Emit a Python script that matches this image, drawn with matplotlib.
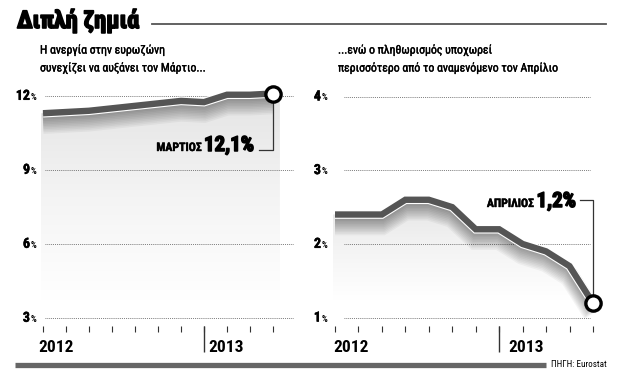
import numpy as np
import matplotlib
matplotlib.use('Agg')
import matplotlib.pyplot as plt
from matplotlib import font_manager, patheffects
from matplotlib.colors import LinearSegmentedColormap
from matplotlib.patches import Polygon

# Eurozone unemployment (%), May 2012 - March 2013
unemp_months = ['2012-05', '2012-06', '2012-07', '2012-08', '2012-09', '2012-10',
                '2012-11', '2012-12', '2013-01', '2013-02', '2013-03']
unemp_values = [11.3, 11.35, 11.4, 11.5, 11.6, 11.7, 11.8, 11.75, 12.05, 12.05, 12.1]
unemp_ticks = [12, 9, 6, 3]

# Eurozone inflation (%), May 2012 - April 2013
infl_months = ['2012-05', '2012-06', '2012-07', '2012-08', '2012-09', '2012-10',
               '2012-11', '2012-12', '2013-01', '2013-02', '2013-03', '2013-04']
infl_values = [2.4, 2.4, 2.4, 2.6, 2.6, 2.5, 2.2, 2.2, 2.0, 1.9, 1.7, 1.2]
infl_ticks = [4, 3, 2, 1]

year_labels = ['2012', '2013']

W, H = 619, 377
LINE_COLOR = '#555555'

names = {f.name for f in font_manager.fontManager.ttflist}
NARROW = next((n for n in ['Liberation Sans Narrow', 'DejaVu Sans Condensed',
                           'Roboto Condensed', 'Open Sans Condensed'] if n in names),
              'DejaVu Sans')
plt.rcParams['font.family'] = [NARROW, 'DejaVu Sans']


def heavy(width):
    return [patheffects.withStroke(linewidth=width, foreground='black')]


fig = plt.figure(figsize=(W / 100, H / 100), dpi=100)
renderer = fig.canvas.get_renderer()


def px_axes(left, top, right, bottom):
    ax = fig.add_axes([left / W, 1 - bottom / H, (right - left) / W, (bottom - top) / H])
    ax.set_axis_off()
    return ax


def to_data(ax, px, py):
    return ax.transData.inverted().transform((px, H - py))


def draw_panel(ax, months, values, ticks, grid_px, num_right_px, years_px):
    x = np.arange(len(months))
    y = np.array(values)

    # grey gradient below the line
    y_bottom = ax.get_ylim()[0]
    fade_to = to_data(ax, 0, 300)[1]
    cmap = LinearSegmentedColormap.from_list('fade', ['#ffffff', '#f4f4f4', '#e4e4e4'])
    grad = np.linspace(0, 1, 256).reshape(-1, 1)
    top = y.max()
    im = ax.imshow(grad, extent=[x[0] - 0.1, x[-1] + 0.3, fade_to, top], origin='lower',
                   cmap=cmap, aspect='auto', zorder=1)
    verts = np.column_stack([np.r_[x[0] - 0.1, x, x[-1] + 0.3, x[-1] + 0.3, x[0] - 0.1],
                             np.r_[y[0], y, y[-1], y_bottom, y_bottom]])
    clip = Polygon(verts, closed=True, facecolor='none', edgecolor='none')
    ax.add_patch(clip)
    im.set_clip_path(clip)

    # dotted grid lines and y labels
    xa = to_data(ax, grid_px[0], 0)[0]
    xb = to_data(ax, grid_px[1], 0)[0]
    ax.hlines(ticks, xa, xb, colors='#555555', linestyles=(0, (1, 1.3)), lw=0.6, zorder=2)
    xn = to_data(ax, num_right_px, 0)[0]
    for t in ticks:
        ty = to_data(ax, 0, H - ax.transData.transform((0, t))[1] + 3.8)[1]
        ax.text(xn, ty, str(t), ha='right', va='baseline', fontsize=10, fontweight='bold',
                path_effects=heavy(0.4))
        ax.text(xn + 0.02, ty, '%', ha='left', va='baseline', fontsize=6.5, fontweight='bold')

    # the line, with white edge and soft shadow
    effects = [patheffects.SimpleLineShadow(offset=(0, -0.7 * k), shadow_color='black',
                                            alpha=0.04, rho=1, linewidth=4.6 + 0.9 * k)
               for k in range(1, 12)]
    effects += [patheffects.Stroke(linewidth=6.2, foreground='white'), patheffects.Normal()]
    ax.plot(x, y, color=LINE_COLOR, lw=4.6, solid_joinstyle='miter',
            solid_capstyle='butt', path_effects=effects, zorder=4)
    ax.plot(x[-1], y[-1], 'o', ms=11, mfc='white', mec='black', mew=2.4, zorder=6)

    # month ticks and year separator
    ya = to_data(ax, 0, 326)[1]
    yb = to_data(ax, 0, 332)[1]
    ax.vlines(x, yb, ya, colors='#333333', lw=0.8)
    dec = months.index('2012-12')
    ax.vlines(dec, to_data(ax, 0, 352)[1], ya, colors='#333333', lw=1.0)
    for label, px in zip(year_labels, years_px):
        ax.text(to_data(ax, px, 0)[0], to_data(ax, 0, 352)[1], label, ha='left',
                va='baseline', fontsize=12.5, fontweight='bold')
    return x, y


def callout(ax, right_px, base_py, value, month_label):
    num = ax.text(to_data(ax, right_px, 0)[0], to_data(ax, 0, base_py)[1],
                  f'{value:.1f}%'.replace('.', ','), ha='right', va='baseline',
                  fontsize=15, fontweight='bold', zorder=7, path_effects=heavy(1.1))
    left = num.get_window_extent(renderer).x0
    ax.text(ax.transData.inverted().transform((left - 3, 0))[0], to_data(ax, 0, base_py)[1],
            month_label, ha='right', va='baseline', fontsize=8.5, fontweight='bold', zorder=7,
            path_effects=heavy(0.3))


ax1 = px_axes(40, 85, 300, 360)
ax1.set_xlim(-3 / 23, -3 / 23 + 260 / 23)
ax1.set_ylim(3 - 42 / 24.67, 3 + 233 / 24.67)
ax2 = px_axes(325, 85, 610, 360)
ax2.set_xlim(-10 / 23.45, -10 / 23.45 + 285 / 23.45)
ax2.set_ylim(1 - 42.3 / 73.7, 1 + 232.7 / 73.7)

x1, y1 = draw_panel(ax1, unemp_months, unemp_values, unemp_ticks, (45, 293), 30, (38, 208))
x2, y2 = draw_panel(ax2, infl_months, infl_values, infl_ticks, (344, 590), 321, (333, 508))

# callouts
lead_y = to_data(ax1, 0, 150)[1]
ax1.plot([x1[-1], x1[-1], to_data(ax1, 259, 0)[0]], [y1[-1], lead_y, lead_y],
         color='#333333', lw=0.9, zorder=5)
callout(ax1, 254, 151, unemp_values[-1], 'ΜΑΡΤΙΟΣ')

lead_y = to_data(ax2, 0, 200)[1]
ax2.plot([to_data(ax2, 580, 0)[0], x2[-1], x2[-1]], [lead_y, lead_y, y2[-1]],
         color='#333333', lw=0.9, zorder=5)
callout(ax2, 576, 207, infl_values[-1], 'ΑΠΡΙΛΙΟΣ')

# title, subtitles, rules, source
fig.text(17 / W, 1 - 28 / H, 'Διπλή ζημιά', fontsize=17.5, fontweight='heavy', va='baseline',
         path_effects=heavy(1.2))
fig.add_artist(plt.Line2D([152 / W, 606 / W], [1 - 24 / H] * 2, color='#555555', lw=1.3))
sub = dict(fontsize=8.5, va='center', path_effects=heavy(0.25))
fig.text(40 / W, 1 - 50 / H, 'Η ανεργία στην ευρωζώνη', **sub)
fig.text(40 / W, 1 - 68 / H, 'συνεχίζει να αυξάνει τον Μάρτιο...', **sub)
fig.text(338 / W, 1 - 50 / H, '...ενώ ο πληθωρισμός υποχωρεί', **sub)
fig.text(338 / W, 1 - 68 / H, 'περισσότερο από το αναμενόμενο τον Απρίλιο', **sub)
fig.add_artist(plt.Line2D([15 / W, 546 / W], [1 - 364.5 / H] * 2, color='#666666', lw=3.8,
                          solid_capstyle='butt'))
fig.text(551 / W, 1 - 364.5 / H, 'ΠΗΓΗ: Eurostat', fontsize=6.5, va='center')

fig.savefig('out.png', dpi=100)
